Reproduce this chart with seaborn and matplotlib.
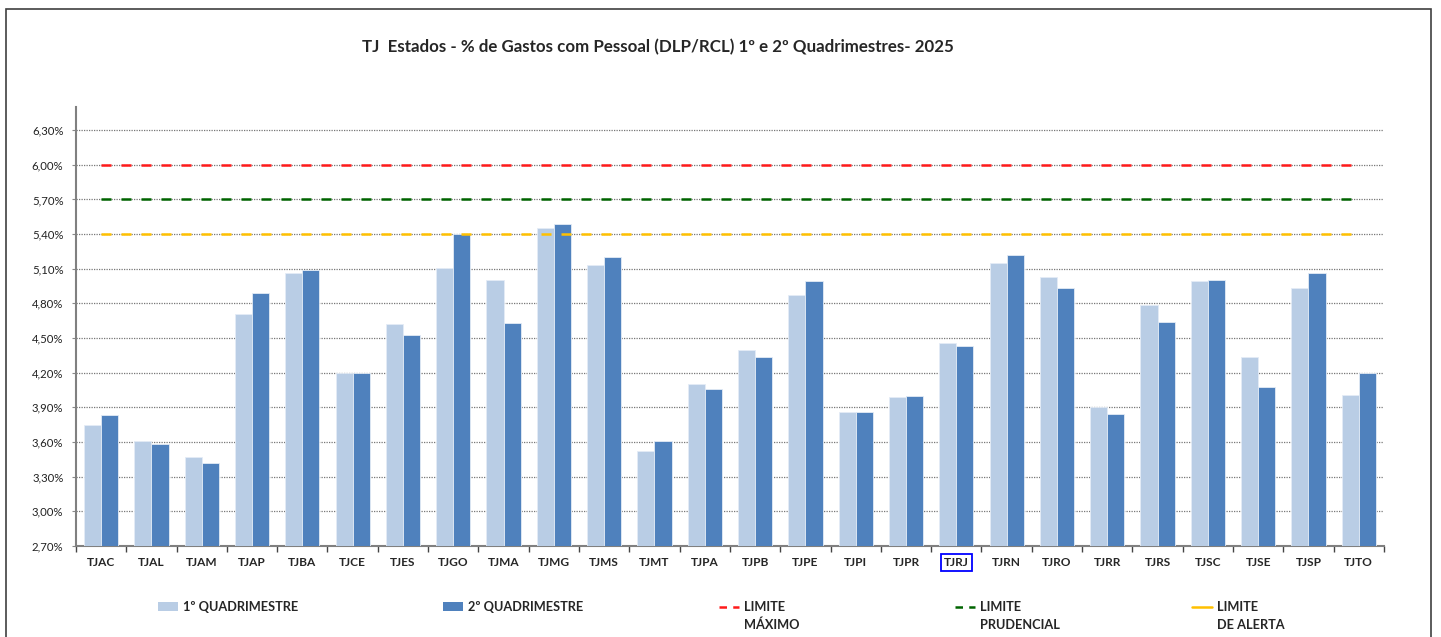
import matplotlib
matplotlib.use("Agg")
import matplotlib.pyplot as plt
import seaborn as sns
import pandas as pd
from matplotlib.patches import Patch, Rectangle
from matplotlib.lines import Line2D

tribunais = ["TJAC", "TJAL", "TJAM", "TJAP", "TJBA", "TJCE", "TJES", "TJGO", "TJMA",
             "TJMG", "TJMS", "TJMT", "TJPA", "TJPB", "TJPE", "TJPI", "TJPR", "TJRJ",
             "TJRN", "TJRO", "TJRR", "TJRS", "TJSC", "TJSE", "TJSP", "TJTO"]
q1 = [3.75, 3.61, 3.47, 4.71, 5.06, 4.20, 4.62, 5.11, 5.00, 5.45, 5.13, 3.52, 4.10,
      4.40, 4.87, 3.86, 3.99, 4.46, 5.15, 5.03, 3.90, 4.79, 4.99, 4.34, 4.93, 4.01]
q2 = [3.83, 3.58, 3.42, 4.89, 5.09, 4.20, 4.53, 5.40, 4.63, 5.49, 5.20, 3.61, 4.06,
      4.34, 4.99, 3.86, 4.00, 4.43, 5.22, 4.93, 3.84, 4.64, 5.00, 4.08, 5.06, 4.20]
serie_labels = ["1º QUADRIMESTRE", "2º QUADRIMESTRE"]
limite_maximo = 6.00
limite_prudencial = 5.70
limite_alerta = 5.40
yticks = [2.70, 3.00, 3.30, 3.60, 3.90, 4.20, 4.50, 4.80, 5.10, 5.40, 5.70, 6.00, 6.30]
titulo = "TJ  Estados - % de Gastos com Pessoal (DLP/RCL) 1º e 2º Quadrimestres- 2025"

sns.set_style("white")
plt.rcParams["font.family"] = ["Lato", "DejaVu Sans"]

df = pd.DataFrame({
    "tribunal": tribunais * 2,
    "valor": q1 + q2,
    "periodo": [serie_labels[0]] * len(tribunais) + [serie_labels[1]] * len(tribunais),
})

light = "#B9CDE5"
dark = "#4F81BD"

fig = plt.figure(figsize=(14.41, 6.37), dpi=100)
ax = fig.add_axes([0.0527, 0.1429, 0.9077, 0.6891])

sns.barplot(data=df, x="tribunal", y="valor", hue="periodo", palette=[light, dark],
            width=0.68, saturation=1, ax=ax, legend=False, edgecolor="#E4ECF6",
            linewidth=0.6, zorder=3)

ax.set_ylim(2.70, 6.50)
ax.set_xlim(-0.5, len(tribunais) - 0.5)
ax.set_yticks(yticks)
ax.set_yticklabels([f"{v:.2f}%".replace(".", ",") for v in yticks], fontsize=8.2, color="#222222")
for v in yticks[1:]:
    ax.axhline(v, color="#777777", linestyle=(0, (1, 1)), linewidth=0.9, zorder=1)

n = len(tribunais)
ax.hlines(limite_maximo, 0, n - 1, colors="#FF1A1A", linestyles=(0, (4, 4)), linewidth=1.8, zorder=4)
ax.hlines(limite_prudencial, 0, n - 1, colors="#006400", linestyles=(0, (4, 4)), linewidth=1.8, zorder=4)
ax.hlines(limite_alerta, 0, n - 1, colors="#FFC000", linestyles=(0, (4, 4)), linewidth=1.8, zorder=4)

ax.set_xlabel("")
ax.set_ylabel("")
ax.set_xticks([i + 0.5 for i in range(-1, n)], minor=True)
ax.tick_params(axis="x", which="major", bottom=False, length=0, pad=8)
ax.tick_params(axis="x", which="minor", bottom=True, length=4, width=1, color="#444444", direction="out")
ax.tick_params(axis="y", left=True, length=3, width=0.8, color="#888888", direction="out", pad=6)
ax.set_xticklabels(tribunais, fontsize=8.6, fontweight="bold")

for s in ["top", "right"]:
    ax.spines[s].set_visible(False)
for s in ["left", "bottom"]:
    ax.spines[s].set_color("#808080")
    ax.spines[s].set_linewidth(1.5)

for lbl in ax.get_xticklabels():
    if lbl.get_text() == "TJRJ":
        lbl.set_bbox(dict(boxstyle="square,pad=0.25", facecolor="none", edgecolor="#0000FF", linewidth=1.3))

fig.text(0.4566, 0.926, titulo, ha="center", va="center", fontsize=12.2, fontweight="bold")

fig.patches.append(Rectangle((6 / 1441, -0.02), (1431 - 6) / 1441, 1.02 - 9 / 637,
                             transform=fig.transFigure, fill=False, edgecolor="#404040", linewidth=1.2))

leg_fs = 9.2
fs_px = leg_fs * 100 / 72
hl, htp = 1.6, 0.35
legend_items = [
    (Patch(facecolor=light, edgecolor="none"), serie_labels[0], None, 158),
    (Patch(facecolor=dark, edgecolor="none"), serie_labels[1], None, 443),
    (Line2D([], [], color="#FF1A1A", linestyle=(0, (3, 2.5)), linewidth=1.8), "LIMITE", "MÁXIMO", 719),
    (Line2D([], [], color="#006400", linestyle=(0, (3, 2.5)), linewidth=1.8), "LIMITE", "PRUDENCIAL", 955),
    (Line2D([], [], color="#FFC000", linestyle="-", linewidth=1.8), "LIMITE", "DE ALERTA", 1192),
]
y1 = 1 - 607 / 637
for h, lab, lab2, xpx in legend_items:
    fig.legend([h], [lab], loc="center left", bbox_to_anchor=(xpx / 1441, y1),
               frameon=False, borderpad=0, borderaxespad=0, handlelength=hl,
               handleheight=0.7, handletextpad=htp,
               prop={"family": ["Lato", "DejaVu Sans"], "weight": "bold", "size": leg_fs})
    if lab2:
        fig.text((xpx + (hl + htp) * fs_px) / 1441, 1 - 625 / 637, lab2, ha="left", va="center",
                 fontsize=leg_fs, fontweight="bold")

fig.savefig("out.png", dpi=100)
